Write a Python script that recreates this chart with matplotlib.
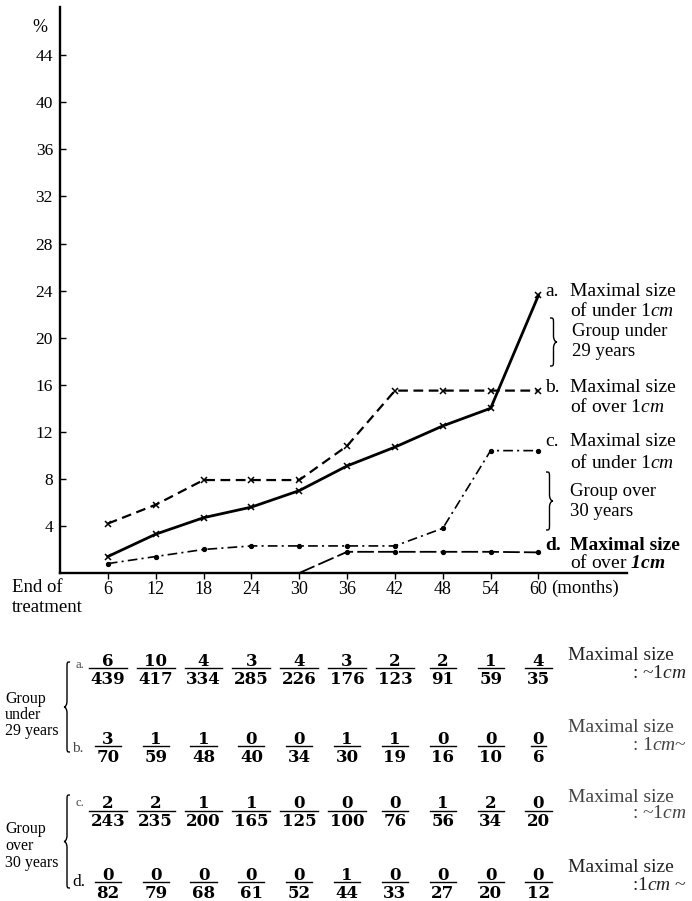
import matplotlib
matplotlib.use("Agg")
import matplotlib.pyplot as plt
import matplotlib.transforms as mtransforms
from matplotlib.path import Path
from matplotlib.patches import PathPatch
from matplotlib.lines import Line2D

plt.rcParams['font.family'] = ['Liberation Serif', 'DejaVu Serif']
plt.rcParams['mathtext.fontset'] = 'custom'
plt.rcParams['mathtext.rm'] = 'Liberation Serif'
plt.rcParams['mathtext.it'] = 'Liberation Serif:italic'
plt.rcParams['mathtext.bf'] = 'Liberation Serif:italic:bold'
plt.rcParams['lines.scale_dashes'] = False

# ---------------- data ----------------
months = [6, 12, 18, 24, 30, 36, 42, 48, 54, 60]
series_a = [1.4, 3.3, 4.7, 5.6, 7.0, 9.1, 10.7, 12.5, 14.0, 23.6]
series_b = [4.2, 5.8, 7.9, 7.9, 7.9, 10.8, 15.5, 15.5, 15.5, 15.5]
series_c = [0.8, 1.4, 2.0, 2.3, 2.3, 2.3, 2.3, 3.8, 10.4, 10.4]
months_d = [30, 36, 42, 48, 54, 60]
series_d = [0.0, 1.8, 1.8, 1.8, 1.8, 1.75]
yticks = [4, 8, 12, 16, 20, 24, 28, 32, 36, 40, 44]

a_num = [6, 10, 4, 3, 4, 3, 2, 2, 1, 4]
a_den = [439, 417, 334, 285, 226, 176, 123, 91, 59, 35]
b_num = [3, 1, 1, 0, 0, 1, 1, 0, 0, 0]
b_den = [70, 59, 48, 40, 34, 30, 19, 16, 10, 6]
c_num = [2, 2, 1, 1, 0, 0, 0, 1, 2, 0]
c_den = [243, 235, 200, 165, 125, 100, 76, 56, 34, 20]
d_num = [0, 0, 0, 0, 0, 1, 0, 0, 0, 0]
d_den = [82, 79, 68, 61, 52, 44, 33, 27, 20, 12]

W, H = 692, 901
fig = plt.figure(figsize=(W / 100, H / 100), dpi=100)
T = mtransforms.Affine2D().scale(1 / W, -1 / H).translate(0, 1) + fig.transFigure

ax = fig.add_axes([60 / W, 1 - 573 / H, 567 / W, 566 / H])
ax.set_xlim(0, 71.1)
ax.set_ylim(0, 48.1)
for s in ['top', 'right']:
    ax.spines[s].set_visible(False)
for s in ['left', 'bottom']:
    ax.spines[s].set_linewidth(1.7)

ax.set_yticks(yticks)
ax.set_yticklabels([str(v) for v in yticks])
ax.set_xticks(months)
ax.set_xticklabels([str(m) for m in months])
ax.tick_params(axis='y', direction='in', length=4, width=1, pad=5, labelsize=12.5)
ax.tick_params(axis='x', direction='out', length=4, width=1, pad=2, labelsize=13)

ax.plot(months, series_a, color='black', lw=2.0, marker='x', ms=5, mew=1.1, clip_on=False)
ax.plot(months, series_b, color='black', lw=1.6, dashes=(7, 4), marker='x', ms=5, mew=1.1, clip_on=False)
ax.plot(months, series_c, color='black', lw=1.2, dashes=(7, 3, 1.5, 3), marker='o', ms=2.8, clip_on=False)
ax.plot(months_d, series_d, color='black', lw=1.3, dashes=(12, 3), marker='o', ms=2.8,
        markevery=list(range(1, len(months_d))), clip_on=False)

def txt(x, y, s, size=14, ha='left', va='center', **kw):
    fig.text(x, y, s, transform=T, fontsize=size, ha=ha, va=va, **kw)

def brace(x_back, x_tip, y0, y1, lw=1.0):
    xm = (x_back + x_tip) / 2
    ym = (y0 + y1) / 2
    r = 6
    verts = [
        (x_back, y0),
        (xm, y0), (xm, y0), (xm, y0 + r),
        (xm, ym - r),
        (xm, ym - r / 2), (xm + (x_tip - xm) * 0.4, ym), (x_tip, ym),
        (xm + (x_tip - xm) * 0.4, ym), (xm, ym + r / 2), (xm, ym + r),
        (xm, y1 - r),
        (xm, y1), (xm, y1), (x_back, y1),
    ]
    codes = [Path.MOVETO,
             Path.CURVE4, Path.CURVE4, Path.CURVE4,
             Path.LINETO,
             Path.CURVE4, Path.CURVE4, Path.CURVE4,
             Path.CURVE4, Path.CURVE4, Path.CURVE4,
             Path.LINETO,
             Path.CURVE4, Path.CURVE4, Path.CURVE4]
    fig.add_artist(PathPatch(Path(verts, codes), transform=T, fill=False, lw=lw, color='black'))

# axis annotations
txt(40, 28, '%', size=13, ha='center')
txt(12, 588, 'End of', size=13.5)
txt(12, 607, 'treatment', size=13.5)
txt(551, 588, '(months)', size=13.5)

# series labels
txt(545, 291, 'a.')
txt(570, 291, 'Maximal size')
txt(570, 311, r'of under 1$\mathit{cm}$')
txt(572, 332, 'Group under', size=13.5)
txt(572, 352, '29 years', size=13.5)
brace(550, 557, 318, 366)

txt(545, 387, 'b.')
txt(570, 387, 'Maximal size')
txt(570, 407, r'of over 1$\mathit{cm}$')

txt(545, 441, 'c.')
txt(570, 441, 'Maximal size')
txt(570, 463, r'of under 1$\mathit{cm}$')
txt(570, 492, 'Group over', size=13.5)
txt(570, 512, '30 years', size=13.5)
brace(546, 553, 472, 530)

txt(545, 545, 'd.', fontweight='bold')
txt(570, 545, 'Maximal size', fontweight='bold')
txt(570, 563, r'of over $\mathbf{1cm}$')

# table
col_x = [ax.transData.transform((m, 0))[0] for m in months]

def frac_row(nums, dens, bar_y):
    for x, n, d in zip(col_x, nums, dens):
        fig.text(x, bar_y - 2.5, str(n), transform=T, ha='center', va='baseline',
                 fontsize=12, fontfamily='DejaVu Serif', fontweight='bold')
        fig.text(x, bar_y + 15.5, str(d), transform=T, ha='center', va='baseline',
                 fontsize=12, fontfamily='DejaVu Serif', fontweight='bold')
        w = max(len(str(n)), len(str(d))) * 11.6 + 3
        fig.add_artist(Line2D([x - w / 2, x + w / 2], [bar_y, bar_y], transform=T,
                              color='black', lw=1.0))

frac_row(a_num, a_den, 668)
frac_row(b_num, b_den, 746)
frac_row(c_num, c_den, 811)
frac_row(d_num, d_den, 882)

txt(5, 699, 'Group', size=11.5)
txt(5, 715, 'under', size=11.5)
txt(5, 731, '29 years', size=11.5)
brace(70, 64, 662, 752)
txt(75, 665, 'a.', size=9, color='#444444')
txt(72, 748, 'b.', size=11, color='#444444')

txt(5, 829, 'Group', size=11.5)
txt(5, 846, 'over', size=11.5)
txt(5, 863, '30 years', size=11.5)
brace(70, 64, 795, 888)
txt(75, 803, 'c.', size=9, color='#444444')
txt(72, 882, 'd.', size=12.5)

txt(568, 656, 'Maximal size', color='#222222')
txt(687, 673, r': ~1$\mathit{cm}$', ha='right', color='#222222')
txt(568, 728, 'Maximal size', color='#444444')
txt(687, 745, r': 1$\mathit{cm}$~', ha='right', color='#444444')
txt(568, 797, 'Maximal size', color='#444444')
txt(687, 814, r': ~1$\mathit{cm}$', ha='right', color='#444444')
txt(568, 868, 'Maximal size', color='#222222')
txt(687, 886, r':1$\mathit{cm}$ ~', ha='right', color='#222222')

fig.savefig('out.png', dpi=100)
